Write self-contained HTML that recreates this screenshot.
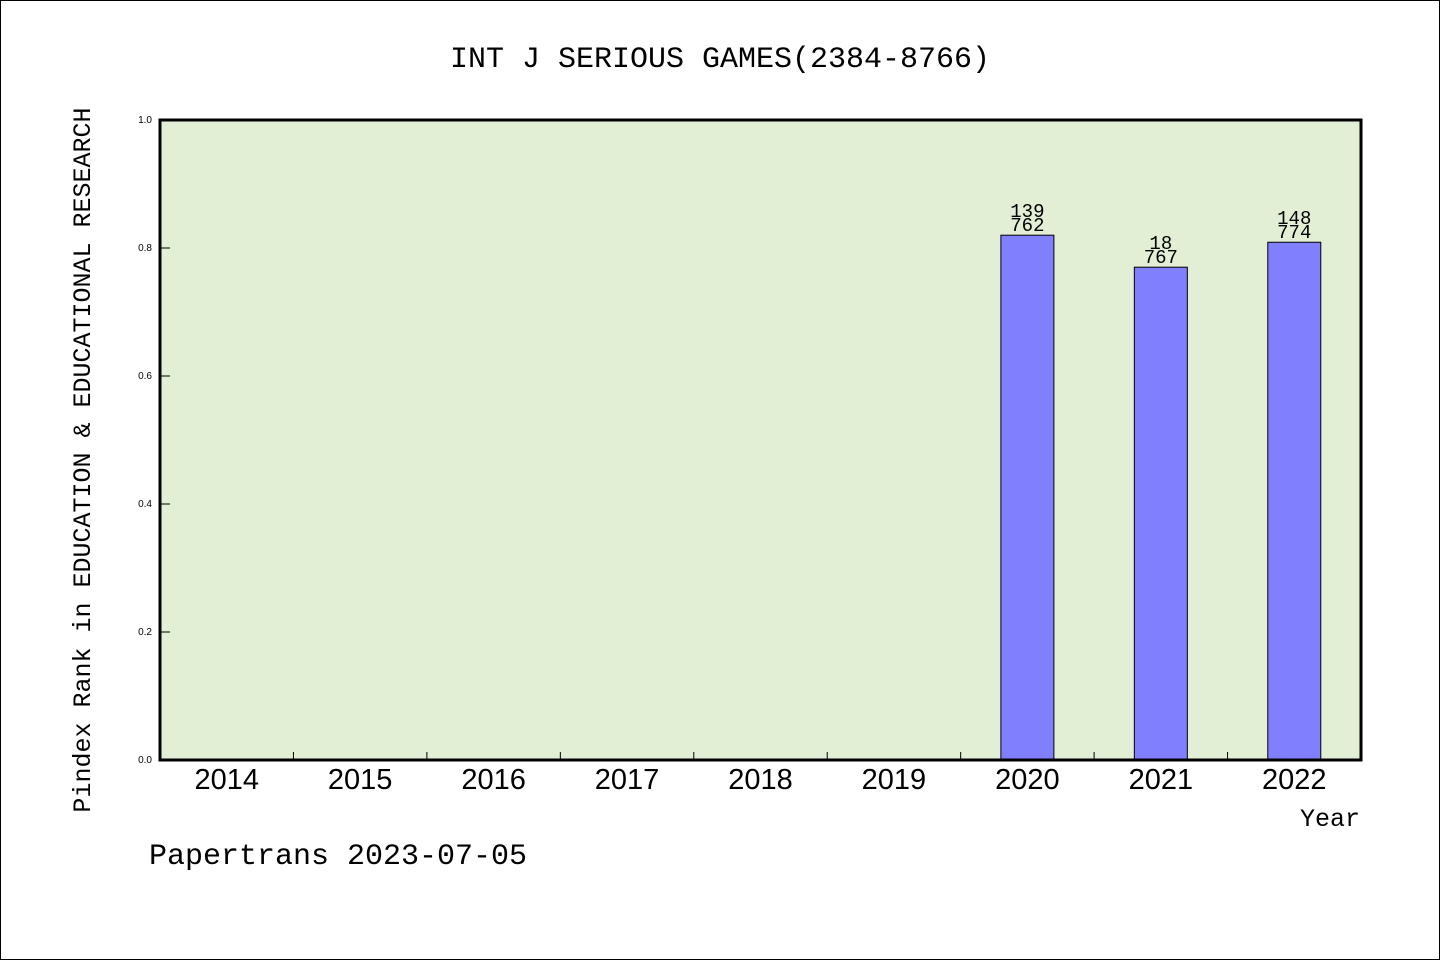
<!DOCTYPE html>
<html><head><meta charset="utf-8"><style>
body{margin:0;background:#fff;}
svg{display:block;}
.mono{font-family:"Liberation Mono","DejaVu Sans Mono",monospace;}
</style></head><body>
<svg id="chart" width="1440" height="960">
<rect x="0.5" y="0.5" width="1439" height="959" fill="#fff" stroke="#000"/>
<text x="720" y="67" text-anchor="middle" font-size="30" class="mono">INT J SERIOUS GAMES(2384-8766)</text>
<rect x="160" y="120" width="1201" height="640" fill="#e2efd5"/>
<g id="bars"></g>
<g id="axes"></g>
<rect x="160" y="120" width="1201" height="640" fill="none" stroke="#000" stroke-width="3"/>
<text transform="translate(90,460) rotate(-90)" text-anchor="middle" font-size="25" class="mono">Pindex Rank in EDUCATION &amp; EDUCATIONAL RESEARCH</text>
<text x="1360" y="826" text-anchor="end" font-size="25" class="mono">Year</text>
<text x="149" y="864" font-size="30" class="mono">Papertrans 2023-07-05</text>
</svg>
<script>
const categories=["2014","2015","2016","2017","2018","2019","2020","2021","2022"];
const values=[null,null,null,null,null,null,0.82,0.77,0.809];
const rankTop=[null,null,null,null,null,null,"139","18","148"];
const rankBottom=[null,null,null,null,null,null,"762","767","774"];
const yTicks=[0,0.2,0.4,0.6,0.8,1.0];
const X0=160,X1=1361,Y0=760,Y1=120;
const band=(X1-X0)/categories.length;
const xc=i=>X0+band*(i+0.5);
const y=v=>Y0-(v/1)*(Y0-Y1);
const ns="http://www.w3.org/2000/svg";
const bars=document.getElementById('bars'),axes=document.getElementById('axes');
function mk(tag,attrs,parent,txt){const e=document.createElementNS(ns,tag);for(const k in attrs)e.setAttribute(k,attrs[k]);if(txt!=null)e.textContent=txt;parent.appendChild(e);return e;}
yTicks.forEach(t=>{
  const l=mk('line',{x1:X0,x2:X0+10,y1:y(t),y2:y(t),stroke:'#000','stroke-width':1},axes);
  
  
  const tx=mk('text',{x:X0-8,y:y(t)+3,'text-anchor':'end','font-size':10,'font-family':'Liberation Sans, sans-serif'},axes,t.toFixed(1));
  
  
});
categories.forEach((c,i)=>{
  if(i>0){const l=mk('line',{x1:X0+band*i,x2:X0+band*i,y1:Y0,y2:Y0-8,stroke:'#000','stroke-width':1},axes);
  
  }
  const tx=mk('text',{x:xc(i),y:Y0+29,'text-anchor':'middle','font-size':29,'font-family':'Liberation Sans, sans-serif'},axes,c);
  
  
  if(values[i]!=null){
    const bw=53;
    const r=mk('rect',{x:xc(i)-bw/2,y:y(values[i]),width:bw,height:Y0-y(values[i]),fill:'#8080ff',stroke:'#000','stroke-width':1},bars);
    
    
    const t1=mk('text',{x:xc(i),y:y(values[i])-18,'text-anchor':'middle','font-size':19,'font-family':'Liberation Mono, monospace'},bars,rankTop[i]);
    
    
    const t2=mk('text',{x:xc(i),y:y(values[i])-4,'text-anchor':'middle','font-size':19,'font-family':'Liberation Mono, monospace'},bars,rankBottom[i]);
    
    
  }
});
</script>
</body></html>
